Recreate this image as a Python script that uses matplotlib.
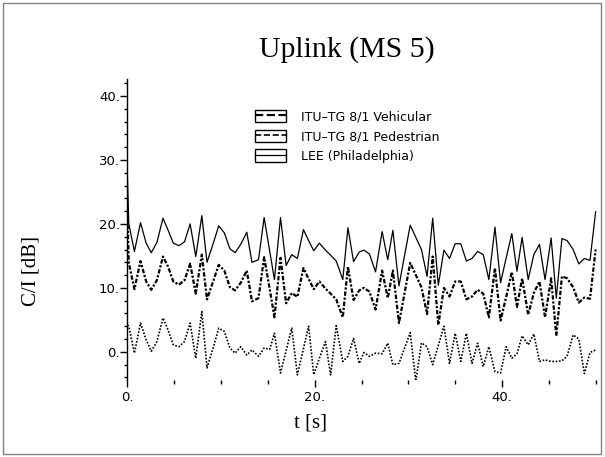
import matplotlib
matplotlib.use("Agg")
import matplotlib.pyplot as plt
from matplotlib.lines import Line2D
from matplotlib.patches import Rectangle
from matplotlib.ticker import FixedLocator, MultipleLocator, FuncFormatter

# time axis [s]
t = [0.0, 0.15, 0.75, 1.4, 2.0, 2.55, 3.15, 3.8, 4.35, 4.9,
     5.5, 6.1, 6.7, 7.3, 7.95, 8.5, 9.2, 9.75, 10.35, 10.95,
     11.5, 12.1, 12.75, 13.3, 14.0, 14.6, 15.2, 15.7, 16.35, 16.95,
     17.55, 18.15, 18.8, 19.35, 19.9, 20.5, 21.15, 21.7, 22.3, 23.0,
     23.55, 24.15, 24.75, 25.25, 25.85, 26.5, 27.2, 27.8, 28.35, 29.0,
     29.6, 30.2, 30.8, 31.4, 32.0, 32.6, 33.2, 33.8, 34.4, 35.0,
     35.6, 36.2, 36.8, 37.4, 38.0, 38.6, 39.25, 39.85, 40.45, 41.05,
     41.6, 42.15, 42.8, 43.4, 44.0, 44.6, 45.25, 45.8, 46.4, 46.95,
     47.6, 48.2, 48.8, 49.4, 50.0]

# C/I [dB]
lee = [27.5, 20.0, 15.7, 20.2, 17.0, 15.5, 17.1, 20.9, 19.0, 17.0,
       16.6, 17.2, 20.0, 14.9, 21.3, 14.0, 17.1, 19.7, 18.6, 16.1,
       15.5, 16.8, 18.7, 14.0, 14.4, 21.0, 15.7, 11.3, 21.0, 13.5,
       15.2, 14.6, 19.1, 17.4, 15.8, 17.0, 15.9, 15.1, 14.2, 11.3,
       19.4, 14.1, 15.6, 15.9, 15.3, 12.5, 18.8, 14.4, 19.0, 10.3,
       15.1, 19.8, 17.9, 16.0, 11.8, 20.9, 10.4, 15.9, 14.6, 16.9,
       16.9, 14.2, 14.6, 15.7, 15.2, 11.3, 19.5, 10.8, 14.7, 18.5,
       12.6, 17.9, 11.3, 15.2, 16.8, 11.3, 17.8, 8.4, 17.7, 17.4,
       16.0, 13.75, 14.6, 14.3, 21.9]

vehicular = [21.5, 13.9, 9.8, 14.2, 11.0, 9.7, 11.2, 14.9, 13.3, 11.0,
             10.5, 11.2, 13.8, 9.1, 15.2, 8.2, 11.2, 13.6, 12.7, 10.1,
             9.6, 10.8, 12.7, 7.9, 8.4, 14.8, 9.8, 5.4, 14.7, 7.6,
             9.2, 8.6, 13.1, 11.4, 9.8, 11.0, 9.9, 9.1, 8.2, 5.4,
             13.3, 8.1, 9.6, 10.0, 9.4, 6.6, 12.7, 8.4, 12.7, 4.5,
             9.2, 13.9, 12.0, 10.1, 5.9, 14.9, 4.2, 10.0, 8.65, 11.0,
             11.0, 8.2, 8.65, 9.7, 9.1, 5.4, 13.1, 4.9, 8.6, 12.5,
             7.0, 11.5, 5.8, 9.2, 11.0, 5.4, 11.5, 2.5, 11.8, 11.5,
             10.1, 7.7, 8.5, 8.3, 16.0]

pedestrian = [4.2, 4.0, -0.2, 4.5, 1.9, 0.1, 1.6, 5.3, 3.4, 1.1,
              0.8, 1.6, 4.5, -1.0, 6.3, -2.5, 0.8, 3.7, 3.2, 0.6,
              -0.2, 0.8, -0.5, 0.3, -0.7, 0.6, 0.4, 2.9, -3.3, 0.2,
              3.7, -3.6, 0.5, 4.0, -3.6, -1.0, 1.6, -3.6, 4.1, -1.5,
              -0.7, 2.1, -1.8, -0.1, -0.7, -0.2, -0.3, 1.35, -2.0, -1.8,
              0.6, 3.0, -4.6, 1.4, 0.8, -2.0, 1.0, 4.0, -1.8, 2.9,
              -1.5, 2.9, -1.8, 1.35, -2.3, 0.8, -3.1, -3.3, 0.8, -1.0,
              -0.3, 2.5, 1.1, 2.8, -1.5, -1.25, -1.5, -1.5, -1.4, -0.7,
              2.65, 2.0, -3.4, -0.1, 0.3]

labels = ["ITU\u2013TG 8/1 Vehicular", "ITU\u2013TG 8/1 Pedestrian", "LEE (Philadelphia)"]

W, H = 605, 457
fig = plt.figure(figsize=(W / 100, H / 100), dpi=100)
ax = fig.add_axes([127.4 / W, 1 - 380 / H, (597.5 - 127.4) / W, (380 - 78.7) / H])

l_veh, = ax.plot(t, vehicular, color="black", lw=1.6, ls=(0, (2, 0.8, 1, 0.8)))
l_ped, = ax.plot(t, pedestrian, color="black", lw=1.2, ls=(0, (1, 1)))
l_lee, = ax.plot(t, lee, color="black", lw=0.9, ls="-")

ax.set_xlim(0, 50.2)
ax.set_ylim(-4.4, 42.7)
for s in ["top", "right", "bottom"]:
    ax.spines[s].set_visible(False)
ax.spines["left"].set_linewidth(1.0)

fmt = FuncFormatter(lambda v, p: f"{v:.0f}.")
ax.xaxis.set_major_locator(FixedLocator([0, 20, 40]))
ax.xaxis.set_minor_locator(MultipleLocator(5))
ax.yaxis.set_major_locator(FixedLocator([0, 10, 20, 30, 40]))
ax.yaxis.set_minor_locator(MultipleLocator(2))
ax.xaxis.set_major_formatter(fmt)
ax.yaxis.set_major_formatter(fmt)
ax.tick_params(axis="x", which="major", length=5, width=1, pad=3, labelsize=9.5)
ax.tick_params(axis="x", which="minor", length=3, width=1)
ax.tick_params(axis="y", which="major", length=5, width=1, pad=0.5, labelsize=9.5)
ax.tick_params(axis="y", which="minor", length=2.2, width=1)

handles = []
for ln in (l_veh, l_ped, l_lee):
    box = Rectangle((0, 0), 1, 1, facecolor="none", edgecolor="black", lw=1)
    handles.append((box, Line2D([], [], color="black", lw=ln.get_linewidth(), ls=ln.get_linestyle())))
fig.legend(handles, labels, loc="upper left", bbox_to_anchor=(255 / W, 1 - 110 / H),
           bbox_transform=fig.transFigure, frameon=False, fontsize=9,
           borderpad=0, borderaxespad=0, handlelength=2.45, handleheight=1.15,
           handletextpad=1.2, labelspacing=0.5)

fig.text(347 / W, 1 - 50 / H, "Uplink (MS 5)", ha="center", va="center",
         family="Liberation Serif", fontsize=21.5)
fig.text(31 / W, 1 - 271 / H, "C/I [dB]", ha="center", va="center", rotation=90,
         family="Liberation Serif", fontsize=15)
fig.text(310 / W, 1 - 423 / H, "t [s]", ha="center", va="center",
         family="Liberation Serif", fontsize=15)

fig.patches.append(Rectangle((3 / W, 3 / H), 598 / W, 451 / H, transform=fig.transFigure,
                             fill=False, edgecolor="#808080", lw=1))

fig.savefig("out.png", dpi=100)
